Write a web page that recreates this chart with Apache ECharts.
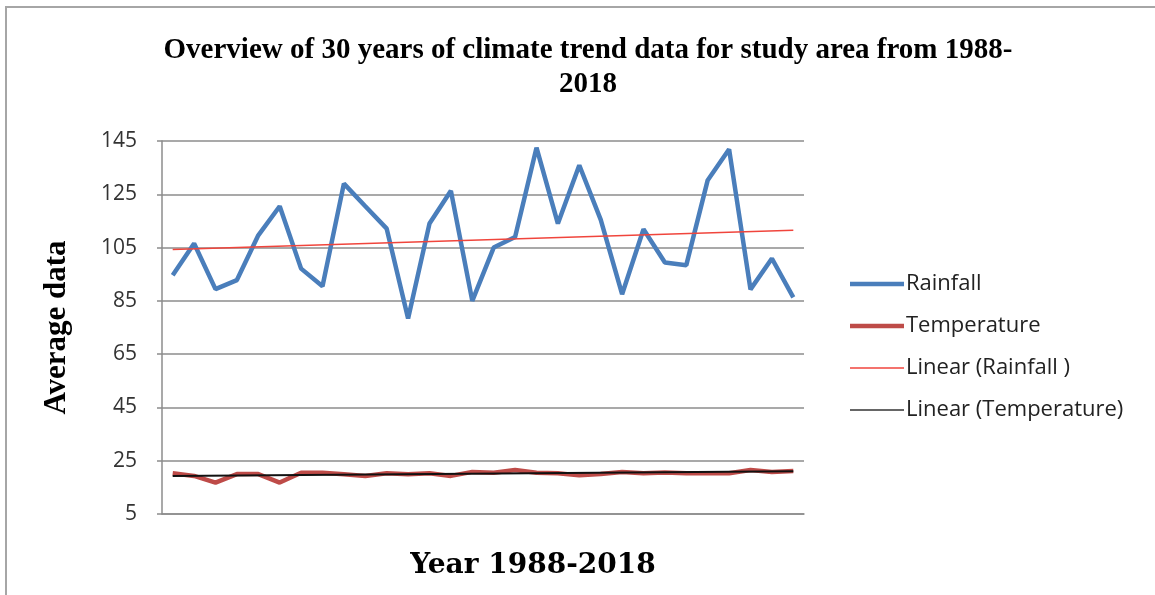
<!DOCTYPE html>
<html>
<head>
<meta charset="utf-8">
<script src="https://cdn.jsdelivr.net/npm/echarts@6/dist/echarts.min.js"></script>
<style>html,body{margin:0;padding:0;background:#fff}#c{width:1155px;height:595px}</style>
</head>
<body>
<div id="c"></div>
<script>
const years = ['1988','1989','1990','1991','1992','1993','1994','1995','1996','1997','1998','1999','2000','2001','2002','2003','2004','2005','2006','2007','2008','2009','2010','2011','2012','2013','2014','2015','2016','2017'];
const rainfall = [94.6,106.5,89.4,92.8,109.6,120.5,97.1,90.5,129.0,120.5,112.1,78.4,114.0,126.3,85.0,105.0,109.0,142.5,114.0,135.9,115.5,87.5,111.9,99.4,98.4,130.3,141.9,89.3,100.9,86.3];
const temperature = [20.3,19.3,16.8,20.0,20.0,16.8,20.5,20.5,19.9,19.3,20.3,19.9,20.3,19.3,20.8,20.5,21.5,20.5,20.3,19.5,20.0,20.8,20.3,20.6,20.3,20.3,20.3,21.5,20.8,21.1];
const rainTrendEnds = [104.3, 111.5];
const tempTrendEnds = [19.3, 21.0];
const yTicks = [5, 25, 45, 65, 85, 105, 125, 145];

const chart = echarts.init(document.getElementById('c'), null, {renderer: 'canvas'});
const last = years.length - 1;
const thick = 'path://M0,0H54V4.5H0Z';
const thin = 'path://M0,0H54V1.6H0Z';
chart.setOption({
  animation: false,
  backgroundColor: '#fff',
  title: {
    text: 'Overview of 30 years of climate trend data for study area from 1988-\n2018',
    left: 583, top: 29, textAlign: 'center',
    textStyle: {fontFamily: 'Liberation Serif', fontWeight: 'bold', fontSize: 29, lineHeight: 34, color: '#000'}
  },
  legend: {
    orient: 'vertical', left: 845, top: 268,
    itemWidth: 54, itemHeight: 20, itemGap: 20,
    textStyle: {fontFamily: 'Open Sans', fontSize: 22, color: '#222', padding: [0, 0, 0, -3]},
    data: [
      {name: 'Rainfall', icon: thick},
      {name: 'Temperature', icon: thick},
      {name: 'Linear (Rainfall )', icon: thin},
      {name: 'Linear (Temperature)', icon: thin}
    ]
  },
  grid: {left: 162, right: 351, top: 141, bottom: 81},
  xAxis: {
    type: 'category', data: years, boundaryGap: true,
    name: 'Year 1988-2018', nameLocation: 'middle', nameGap: 38,
    nameTextStyle: {fontFamily: 'DejaVu Serif', fontWeight: 'bold', fontSize: 28, color: '#000', padding: [0, 0, 0, 100]},
    axisLine: {lineStyle: {color: '#8c8c8c', width: 1.5}},
    axisTick: {show: false}, axisLabel: {show: false}
  },
  yAxis: {
    type: 'value', min: yTicks[0], max: yTicks[yTicks.length - 1], interval: 20,
    name: 'Average data', nameLocation: 'middle', nameGap: 90, nameRotate: 90,
    nameTextStyle: {fontFamily: 'Liberation Serif', fontWeight: 'bold', fontSize: 31, color: '#000'},
    axisLine: {show: true, lineStyle: {color: '#8c8c8c', width: 1.5}},
    axisTick: {show: true, length: 5, lineStyle: {color: '#8c8c8c', width: 1.5}},
    axisLabel: {margin: 25, fontFamily: 'Open Sans', fontSize: 21, color: '#333'},
    splitLine: {lineStyle: {color: '#8c8c8c', width: 1.5}}
  },
  series: [
    {name: 'Rainfall', type: 'line', data: rainfall, symbol: 'none', z: 2,
     lineStyle: {color: '#4A7EBB', width: 4.5}, itemStyle: {color: '#4A7EBB'}},
    {name: 'Temperature', type: 'line', data: temperature, symbol: 'none', z: 2,
     lineStyle: {color: '#BE4B48', width: 4.5}, itemStyle: {color: '#BE4B48'}},
    {name: 'Linear (Rainfall )', type: 'line', symbol: 'none', z: 3,
     data: [[years[0], rainTrendEnds[0]], [years[last], rainTrendEnds[1]]],
     lineStyle: {color: '#F0453C', width: 1.5}, itemStyle: {color: '#F0453C'}},
    {name: 'Linear (Temperature)', type: 'line', symbol: 'none', z: 3,
     data: [[years[0], tempTrendEnds[0]], [years[last], tempTrendEnds[1]]],
     lineStyle: {color: '#111', width: 2}, itemStyle: {color: '#333'}}
  ],
  graphic: [
    {type: 'line', shape: {x1: 5, y1: 7, x2: 1155, y2: 7}, style: {stroke: '#a6a6a6', lineWidth: 2}},
    {type: 'line', shape: {x1: 6, y1: 7, x2: 6, y2: 595}, style: {stroke: '#a6a6a6', lineWidth: 2}}
  ]
});
</script>
</body>
</html>
